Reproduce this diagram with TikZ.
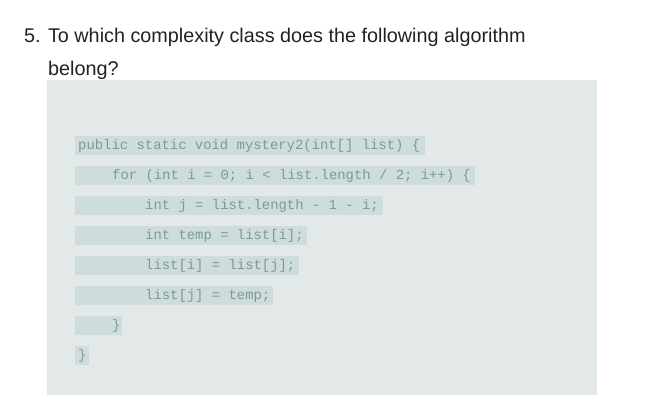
\documentclass[tikz,border=0pt]{standalone}
\usepackage{fontspec}
\setmainfont{Liberation Sans}
\setmonofont{Liberation Mono}
\definecolor{panel}{HTML}{E3E9E9}
\definecolor{bar}{HTML}{CFDCDC}
\definecolor{codec}{HTML}{7A9A9A}
\definecolor{headc}{HTML}{222222}
\begin{document}
\begin{tikzpicture}[x=1pt,y=-1pt,
  head/.style={anchor=base west,inner sep=0,font=\fontsize{19.8}{22}\selectfont,text=headc},
  code/.style={anchor=west,inner sep=0,font=\ttfamily\fontsize{13.9}{16}\selectfont,text=codec}]
\useasboundingbox (0,0) rectangle (656,405);
\fill[white] (0,0) rectangle (656,405);
\node[head] (h1) at (24,42) {5. To which complexity class does the following algorithm};
\node[head] (h2) at (48,75) {belong?};
\fill[panel] (47,80) rectangle (597,395);
\foreach \y/\r in {136/425,166/475,196/383,226/307,256/299,286/273,316/122,346/89}
  \fill[bar] (75,\y) rectangle (\r,\y+19);
\node[code] (l1) at (78,146) {public static void mystery2(int[] list) \{};
\node[code] (l2) at (112,176) {for (int i = 0; i < list.length / 2; i++) \{};
\node[code] (l3) at (145,206) {int j = list.length - 1 - i;};
\node[code] (l4) at (145,236) {int temp = list[i];};
\node[code] (l5) at (145,266) {list[i] = list[j];};
\node[code] (l6) at (145,296) {list[j] = temp;};
\node[code] (l7) at (112,326) {\}};
\node[code] (l8) at (78,356) {\}};
\end{tikzpicture}
\end{document}
